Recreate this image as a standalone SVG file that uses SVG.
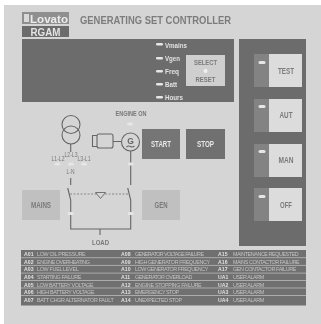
<svg xmlns="http://www.w3.org/2000/svg" width="321" height="324" viewBox="0 0 321 324">
<style>
text{font-family:"Liberation Sans",Arial,sans-serif}
.dark{fill:#6c6c6c}
.pale{fill:#dcdcdc}
.led{fill:#e6e6e6}
.sw{fill:#c0c0c0}
.lbl{font-weight:700;fill:#7a7a7a;text-anchor:middle;font-size:9px}
.dsp{font-weight:700;fill:#e2e2e2;font-size:7.5px}
.tiny{fill:#777;font-size:6.5px;text-anchor:middle}
.btn{font-weight:700;fill:#e8e8e8;text-anchor:middle;font-size:9px}
.code{font-weight:700;fill:#e0e0e0;font-size:5.2px}
.al{fill:#c4c4c4;font-size:5.4px}
.ln{fill:none;stroke:#666;stroke-width:1.1}
</style>
<defs>
<filter id="soft" x="0" y="0" width="100%" height="100%"><feGaussianBlur stdDeviation="0.5"/></filter>
</defs>
<rect width="321" height="324" fill="#fff"/>
<g filter="url(#soft)">
<rect id="panel" x="4" y="5" width="317" height="319" fill="#d5d5d5"/>
<g id="logo">
<rect x="22" y="12" width="47" height="12" fill="#8f8f8f"/>
<rect x="24" y="14" width="5" height="8" fill="#d8d8d8"/>
<text x="30" y="22.500" font-size="11" font-weight="700" fill="#ececec" textLength="38" lengthAdjust="spacingAndGlyphs">Lovato</text>
<rect class="dark" x="22" y="26" width="47" height="11"/>
<text x="45.500" y="35.500" font-size="10.500" font-weight="700" fill="#e4e4e4" text-anchor="middle" textLength="30" lengthAdjust="spacingAndGlyphs">RGAM</text>
</g>
<text id="title" x="80" y="23.500" font-size="11.500" font-weight="700" fill="#7c7c7c" textLength="151" lengthAdjust="spacingAndGlyphs">GENERATING SET CONTROLLER</text>
<g id="display">
<rect class="dark" x="22" y="39" width="212" height="63"/>
<rect class="led" x="156" y="43" width="7" height="2.400" rx="1.200"/>
<text class="dsp" x="165" y="47.500" textLength="22" lengthAdjust="spacingAndGlyphs">Vmains</text>
<rect class="led" x="156" y="57" width="7" height="2.400" rx="1.200"/>
<text class="dsp" x="165" y="61" textLength="15" lengthAdjust="spacingAndGlyphs">Vgen</text>
<rect class="led" x="156" y="70" width="7" height="2.400" rx="1.200"/>
<text class="dsp" x="165" y="74" textLength="14" lengthAdjust="spacingAndGlyphs">Freq</text>
<rect class="led" x="156" y="83" width="7" height="2.400" rx="1.200"/>
<text class="dsp" x="165" y="87" textLength="12" lengthAdjust="spacingAndGlyphs">Batt</text>
<rect class="led" x="156" y="96" width="7" height="2.400" rx="1.200"/>
<text class="dsp" x="165" y="100" textLength="18" lengthAdjust="spacingAndGlyphs">Hours</text>
</g>
<g id="select">
<rect x="186" y="55" width="39" height="31" fill="#cfcfcf"/>
<text x="205.500" y="65" font-size="7.500" font-weight="700" fill="#7a7a7a" text-anchor="middle" textLength="23" lengthAdjust="spacingAndGlyphs">SELECT</text>
<circle cx="205.500" cy="71" r="2" fill="#f0f0f0"/>
<text x="205.500" y="82" font-size="7.500" font-weight="700" fill="#7a7a7a" text-anchor="middle" textLength="20" lengthAdjust="spacingAndGlyphs">RESET</text>
</g>
<g id="modes">
<rect class="dark" x="239" y="39" width="67" height="207"/>
<g id="test"><rect x="254" y="54" width="15" height="33" fill="#838383"/><rect class="pale" x="269" y="54" width="33" height="33"/><rect class="led" x="258.500" y="61" width="7" height="3" rx="1.500"/><text class="lbl" x="286" y="73.500" textLength="16" lengthAdjust="spacingAndGlyphs">TEST</text></g>
<g id="aut"><rect x="254" y="99" width="15" height="33" fill="#838383"/><rect class="pale" x="269" y="99" width="33" height="33"/><rect class="led" x="258.500" y="105" width="7" height="3" rx="1.500"/><text class="lbl" x="286" y="118" textLength="13" lengthAdjust="spacingAndGlyphs">AUT</text></g>
<g id="man"><rect x="254" y="144" width="15" height="33" fill="#838383"/><rect class="pale" x="269" y="144" width="33" height="33"/><rect class="led" x="258.500" y="150" width="7" height="3" rx="1.500"/><text class="lbl" x="286" y="162.500" textLength="15" lengthAdjust="spacingAndGlyphs">MAN</text></g>
<g id="off"><rect x="254" y="188" width="15" height="33" fill="#838383"/><rect class="pale" x="269" y="188" width="33" height="33"/><rect class="led" x="258.500" y="195" width="7" height="3" rx="1.500"/><text class="lbl" x="286" y="207.500" textLength="12" lengthAdjust="spacingAndGlyphs">OFF</text></g>
</g>
<g id="start"><rect x="142" y="129" width="38" height="30" fill="#757575"/><text class="btn" x="161" y="146.500" textLength="20" lengthAdjust="spacingAndGlyphs">START</text></g>
<g id="stop"><rect x="186" y="129" width="39" height="30" fill="#6f6f6f"/><text class="btn" x="205.500" y="146.500" textLength="17" lengthAdjust="spacingAndGlyphs">STOP</text></g>
<g id="mains"><rect class="sw" x="22" y="190" width="38" height="30"/><text class="lbl" x="41" y="207.500" textLength="20" lengthAdjust="spacingAndGlyphs">MAINS</text></g>
<g id="gen"><rect class="sw" x="142" y="190" width="38" height="30"/><text class="lbl" x="161" y="207.500" textLength="13" lengthAdjust="spacingAndGlyphs">GEN</text></g>
<g id="connectors">
<circle class="ln" cx="71" cy="124.500" r="9"/>
<circle class="ln" cx="71" cy="135" r="9"/>
<path class="ln" d="M70.700 144V152M70.700 178V185M67.700 188L70.700 200V229H130.700V200L127.700 188M130.700 151V185M100 229V235M113 141.500H121"/>
<path d="M70 194H128" fill="none" stroke="#777" stroke-width="0.800" stroke-dasharray="2 1.500"/>
<path d="M95.500 192.500H105.500L100.500 198.500Z" fill="#d5d5d5" stroke="#666" stroke-width="0.900"/>
</g>
<g id="generator">
<circle class="ln" cx="130.500" cy="142" r="9"/>
<text x="130.500" y="144" font-size="8.500" font-weight="700" fill="#666" text-anchor="middle">G</text>
<path class="ln" d="M126.500 147Q128.500 145.300 130.500 146.500T134.500 146" stroke-width="0.800"/>
</g>
<g id="motor">
<rect class="ln" x="97" y="134" width="16" height="14" rx="2"/>
<path class="ln" d="M97 135.500H92.500V146.500H97"/>
</g>
<g id="labels">
<text class="tiny" x="131" y="116" font-weight="700" textLength="31" lengthAdjust="spacingAndGlyphs">ENGINE ON</text>
<rect class="led" x="127" y="122.500" width="6" height="3" rx="1.500"/>
<text class="tiny" x="58" y="160.500" textLength="13" lengthAdjust="spacingAndGlyphs">L1-L2</text>
<text class="tiny" x="71" y="156.500" textLength="13" lengthAdjust="spacingAndGlyphs">L2-L3</text>
<text class="tiny" x="84" y="160.500" textLength="13" lengthAdjust="spacingAndGlyphs">L3-L1</text>
<rect class="led" x="54.500" y="162.500" width="6" height="3" rx="1.500"/>
<rect class="led" x="68" y="162.500" width="6" height="3" rx="1.500"/>
<rect class="led" x="81" y="162.500" width="6" height="3" rx="1.500"/>
<rect class="led" x="127.700" y="162.500" width="6" height="3" rx="1.500"/>
<text class="tiny" x="70.500" y="174" textLength="8" lengthAdjust="spacingAndGlyphs">L-N</text>
<rect class="led" x="67.700" y="212" width="6" height="3" rx="1.500"/>
<rect class="led" x="127.700" y="212" width="6" height="3" rx="1.500"/>
<text class="tiny" x="100.500" y="244.500" font-size="7.500" font-weight="700" textLength="17" lengthAdjust="spacingAndGlyphs">LOAD</text>
</g>
<g id="alarms">
<rect x="21" y="250" width="285" height="55.500" fill="#6f6f6f"/>
<path d="M21 257.700H306M21 265.400H306M21 273.100H306M21 280.500H306M21 288H306M21 295.500H306" stroke="#bdbdbd" stroke-width="0.800"/>
<g class="code">
<text x="24" y="256">A01</text><text x="24" y="263.700">A02</text><text x="24" y="271.400">A03</text><text x="24" y="279">A04</text><text x="24" y="286.500">A05</text><text x="24" y="294">A06</text><text x="24" y="302">A07</text>
<text x="121" y="256">A08</text><text x="121" y="263.700">A09</text><text x="121" y="271.400">A10</text><text x="121" y="279">A11</text><text x="121" y="286.500">A12</text><text x="121" y="294">A13</text><text x="121" y="302">A14</text>
<text x="218" y="256">A15</text><text x="218" y="263.700">A16</text><text x="218" y="271.400">A17</text><text x="218" y="279">UA1</text><text x="218" y="286.500">UA2</text><text x="218" y="294">UA3</text><text x="218" y="302">UA4</text>
</g>
<g class="al">
<text x="37" y="256" textLength="48.700">LOW OIL PRESSURE</text>
<text x="37" y="263.700" textLength="53">ENGINE OVERHEATING</text>
<text x="37" y="271.400" textLength="41.700">LOW FUEL LEVEL</text>
<text x="37" y="279" textLength="44.300">STARTING FAILURE</text>
<text x="37" y="286.500" textLength="56.700">LOW BATTERY VOLTAGE</text>
<text x="37" y="294" textLength="57.700">HIGH BATTERY VOLTAGE</text>
<text x="37" y="302" textLength="76.700">BATT CHGR ALTERNATOR FAULT</text>
<text x="135" y="256" textLength="69">GENERATOR VOLTAGE FAILURE</text>
<text x="135" y="263.700" textLength="75">HIGH GENERATOR FREQUENCY</text>
<text x="135" y="271.400" textLength="73.300">LOW GENERATOR FREQUENCY</text>
<text x="135" y="279" textLength="57.300">GENERATOR OVERLOAD</text>
<text x="135" y="286.500" textLength="66.700">ENGINE STOPPING FAILURE</text>
<text x="135" y="294" textLength="44">EMERGENCY STOP</text>
<text x="135" y="302" textLength="47">UNEXPECTED STOP</text>
<text x="233" y="256" textLength="65.700">MAINTENANCE REQUESTED</text>
<text x="233" y="263.700" textLength="66.700">MAINS CONTACTOR FAILURE</text>
<text x="233" y="271.400" textLength="63.300">GEN CONTACTOR FAILURE</text>
<text x="233" y="279" textLength="31.300">USER ALARM</text>
<text x="233" y="286.500" textLength="31.300">USER ALARM</text>
<text x="233" y="294" textLength="31.300">USER ALARM</text>
<text x="233" y="302" textLength="31.300">USER ALARM</text>
</g>
</g>
</g>
</svg>
